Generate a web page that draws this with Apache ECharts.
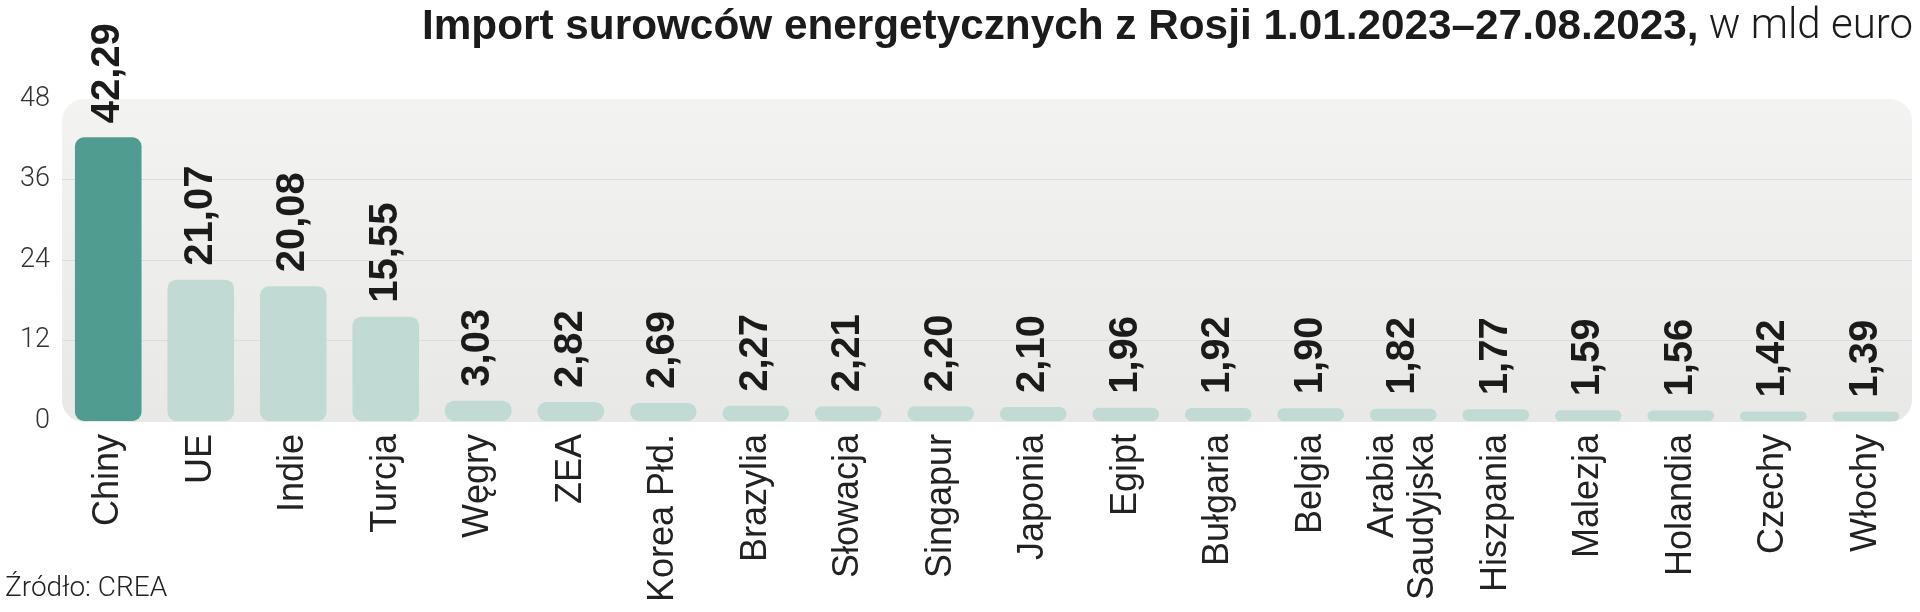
<!DOCTYPE html>
<html>
<head>
<meta charset="utf-8">
<script src="https://cdn.jsdelivr.net/npm/echarts@6/dist/echarts.min.js"></script>
<style>
html,body{margin:0;padding:0;background:#fff;}
#c{width:1920px;height:612px;}
</style>
</head>
<body>
<div id="c"></div>
<script>
const categories = ['Chiny','UE','Indie','Turcja','Węgry','ZEA','Korea Płd.','Brazylia','Słowacja','Singapur','Japonia','Egipt','Bułgaria','Belgia','Arabia\nSaudyjska','Hiszpania','Malezja','Holandia','Czechy','Włochy'];
const values = [42.29,21.07,20.08,15.55,3.03,2.82,2.69,2.27,2.21,2.20,2.10,1.96,1.92,1.90,1.82,1.77,1.59,1.56,1.42,1.39];
const highlighted = ['Chiny'];
const yTicks = {min: 0, max: 48, interval: 12};

const DARK = '#519c90';
const LIGHT = '#c1dad3';

const chart = echarts.init(document.getElementById('c'), null, {renderer: 'canvas'});
const GRID = {left: 62, right: 8, top: 99, bottom: 191};

chart.setOption({
  animation: false,
  title: [{
    text: '{b|Import surowców energetycznych z Rosji 1.01.2023–27.08.2023,}{l| w mld euro}',
    right: 2, top: 1,
    textStyle: {
      rich: {
        b: {fontFamily: 'Liberation Sans', fontWeight: 'bold', fontSize: 42.3, color: '#1b1b1b'},
        l: {fontFamily: 'Roboto', fontWeight: 300, fontSize: 42, color: '#1b1b1b'}
      }
    }
  }, {
    text: 'Źródło: CREA',
    left: 0, bottom: 4,
    textStyle: {fontFamily: 'Roboto', fontWeight: 300, fontSize: 28, color: '#222'}
  }],
  graphic: [{
    type: 'rect', z: -10,
    shape: {x: GRID.left, y: GRID.top, width: 1920 - GRID.left - GRID.right, height: 612 - GRID.top - GRID.bottom + 1, r: 22},
    style: {fill: new echarts.graphic.LinearGradient(0, 0, 0, 1, [{offset: 0, color: '#f3f3f2'}, {offset: 1, color: '#e8e8e6'}])}
  }],
  grid: GRID,
  xAxis: {
    type: 'category',
    data: categories,
    axisLine: {show: false},
    axisTick: {show: false},
    axisLabel: {interval: 0, rotate: 90, margin: 13, fontFamily: 'Liberation Sans', fontSize: 36, lineHeight: 40, color: '#222'}
  },
  yAxis: {
    type: 'value',
    min: yTicks.min, max: yTicks.max, interval: yTicks.interval,
    axisLine: {show: false},
    axisTick: {show: false},
    axisLabel: {margin: 12, fontFamily: 'Roboto', fontWeight: 300, fontSize: 27, color: '#333'},
    splitLine: {lineStyle: {color: ['rgba(0,0,0,0)', '#dcdcdc', '#dcdcdc', '#dcdcdc', 'rgba(0,0,0,0)'], width: 1}}
  },
  series: [{
    type: 'bar',
    barWidth: '72%',
    data: values.map((v, i) => ({
      value: v,
      itemStyle: {color: highlighted.includes(categories[i]) ? DARK : LIGHT}
    })),
    itemStyle: {borderRadius: 9},
    label: {
      show: true, position: 'top', rotate: 90, align: 'left', verticalAlign: 'middle', distance: 14,
      fontFamily: 'Liberation Sans', fontWeight: 'bold', fontSize: 40, color: '#1b1b1b',
      formatter: p => p.value.toFixed(2).replace('.', ',')
    }
  }]
});
</script>
</body>
</html>
